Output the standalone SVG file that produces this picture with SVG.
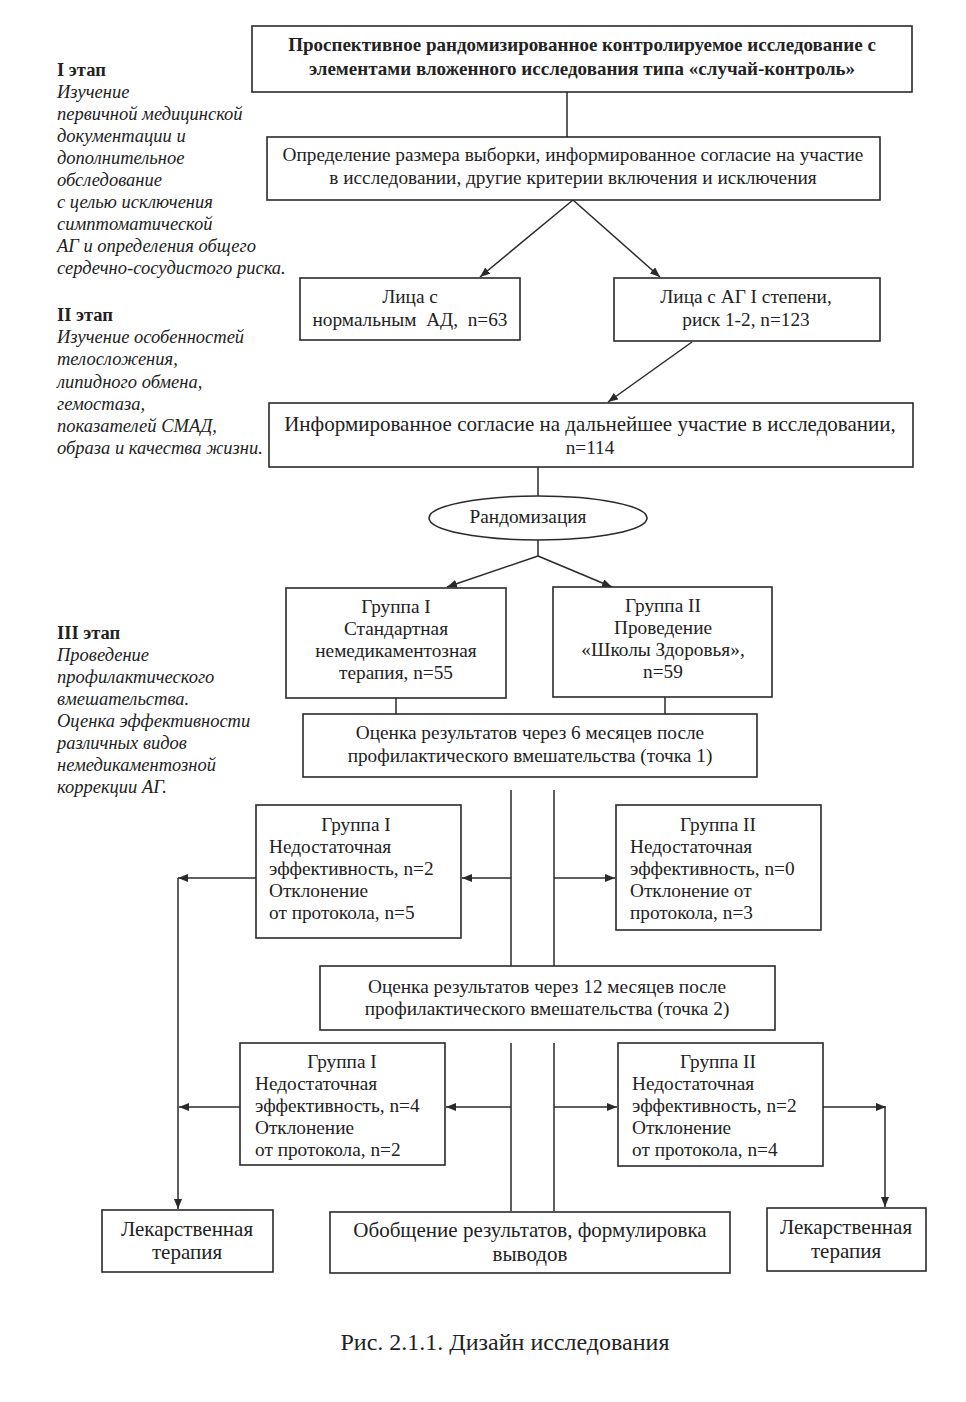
<svg xmlns="http://www.w3.org/2000/svg" width="966" height="1402" viewBox="0 0 966 1402">
<defs>
<marker id="arr" viewBox="0 0 10 8" refX="10" refY="4" markerWidth="10" markerHeight="8" markerUnits="userSpaceOnUse" orient="auto">
<path d="M0,0 L10,4 L0,8 Z" fill="#2a2a2a"/>
</marker>
<style>
.box{fill:#fff;stroke:#2a2a2a;stroke-width:1.6}
.ln{fill:none;stroke:#2a2a2a;stroke-width:1.5}
.t{font-family:"Liberation Serif","Times New Roman",serif;font-size:19.3px;fill:#222}
.c{text-anchor:middle}
.b{font-weight:bold}
.big{font-size:21px}
.st{font-family:"Liberation Serif","Times New Roman",serif;font-size:18.5px;fill:#222}
.it{font-style:italic}
</style>
</defs>
<rect width="966" height="1402" fill="#fff"/>

<g id="stages">
<text class="st b" x="57" y="76">I этап</text>
<text class="st it" x="57" y="98">Изучение</text>
<text class="st it" x="57" y="120">первичной медицинской</text>
<text class="st it" x="57" y="142">документации и</text>
<text class="st it" x="57" y="164">дополнительное</text>
<text class="st it" x="57" y="186">обследование</text>
<text class="st it" x="57" y="208">с целью исключения</text>
<text class="st it" x="57" y="230">симптоматической</text>
<text class="st it" x="57" y="252">АГ и определения общего</text>
<text class="st it" x="57" y="274">сердечно-сосудистого риска.</text>
<text class="st b" x="57" y="321">II этап</text>
<text class="st it" x="57" y="343">Изучение особенностей</text>
<text class="st it" x="57" y="365">телосложения,</text>
<text class="st it" x="57" y="388">липидного обмена,</text>
<text class="st it" x="57" y="410">гемостаза,</text>
<text class="st it" x="57" y="432">показателей СМАД,</text>
<text class="st it" x="57" y="454">образа и качества жизни.</text>
<text class="st b" x="57" y="639">III этап</text>
<text class="st it" x="57" y="661">Проведение</text>
<text class="st it" x="57" y="683">профилактического</text>
<text class="st it" x="57" y="705">вмешательства.</text>
<text class="st it" x="57" y="727">Оценка эффективности</text>
<text class="st it" x="57" y="749">различных видов</text>
<text class="st it" x="57" y="771">немедикаментозной</text>
<text class="st it" x="57" y="793">коррекции АГ.</text>
</g>

<g id="connectors">
<line class="ln" x1="567" y1="92" x2="567" y2="137"/>
<line class="ln" x1="573" y1="200" x2="480" y2="277" marker-end="url(#arr)"/>
<line class="ln" x1="573" y1="200" x2="660" y2="277" marker-end="url(#arr)"/>
<line class="ln" x1="692" y1="342" x2="608" y2="402" marker-end="url(#arr)"/>
<line class="ln" x1="538" y1="467" x2="538" y2="496"/>
<polyline class="ln" points="538,540 538,556"/>
<line class="ln" x1="538" y1="556" x2="447" y2="587" marker-end="url(#arr)"/>
<line class="ln" x1="538" y1="556" x2="612" y2="587" marker-end="url(#arr)"/>
<line class="ln" x1="396" y1="698" x2="396" y2="714"/>
<line class="ln" x1="665" y1="697" x2="665" y2="714"/>
<line class="ln" x1="511" y1="790" x2="511" y2="966"/>
<line class="ln" x1="554" y1="790" x2="554" y2="966"/>
<line class="ln" x1="511" y1="878" x2="462" y2="878" marker-end="url(#arr)"/>
<line class="ln" x1="256" y1="878" x2="178" y2="878" marker-end="url(#arr)"/>
<line class="ln" x1="554" y1="878" x2="615" y2="878" marker-end="url(#arr)"/>
<line class="ln" x1="178" y1="878" x2="178" y2="1209" marker-end="url(#arr)"/>
<line class="ln" x1="511" y1="1043" x2="511" y2="1211"/>
<line class="ln" x1="554" y1="1043" x2="554" y2="1211"/>
<line class="ln" x1="511" y1="1107" x2="446" y2="1107" marker-end="url(#arr)"/>
<line class="ln" x1="240" y1="1107" x2="179" y2="1107" marker-end="url(#arr)"/>
<line class="ln" x1="554" y1="1107" x2="617" y2="1107" marker-end="url(#arr)"/>
<line class="ln" x1="823" y1="1107" x2="886" y2="1107" marker-end="url(#arr)"/>
<line class="ln" x1="885" y1="1107" x2="885" y2="1207" marker-end="url(#arr)"/>
</g>

<g id="n-title">
<rect class="box" x="252" y="26" width="660" height="66"/>
<text class="t c b" x="582" y="51" style="font-size:19px">Проспективное рандомизированное контролируемое исследование с</text>
<text class="t c b" x="582" y="75" style="font-size:19px">элементами вложенного исследования типа «случай-контроль»</text>
</g>
<g id="n-selection">
<rect class="box" x="267" y="137" width="613" height="63"/>
<text class="t c" x="573" y="161">Определение размера выборки, информированное согласие на участие</text>
<text class="t c" x="573" y="184">в исследовании, другие критерии включения и исключения</text>
</g>
<g id="n-normal">
<rect class="box" x="300" y="278" width="220" height="62"/>
<text class="t c" x="410" y="303">Лица с</text>
<text class="t c" x="410" y="326" xml:space="preserve">нормальным  АД,  n=63</text>
</g>
<g id="n-ag">
<rect class="box" x="614" y="278" width="266" height="63"/>
<text class="t c" x="746" y="303">Лица с АГ I степени,</text>
<text class="t c" x="746" y="326">риск 1-2, n=123</text>
</g>
<g id="n-consent">
<rect class="box" x="269" y="403" width="644" height="64"/>
<text class="t c" x="590" y="431" style="font-size:21px">Информированное согласие на дальнейшее участие в исследовании,</text>
<text class="t c" x="590" y="454">n=114</text>
</g>
<g id="n-random">
<ellipse class="box" cx="538" cy="518" rx="109" ry="22"/>
<text class="t c" x="528" y="523">Рандомизация</text>
</g>
<g id="n-g1">
<rect class="box" x="286" y="588" width="220" height="110"/>
<text class="t c" x="396" y="613">Группа I</text>
<text class="t c" x="396" y="635">Стандартная</text>
<text class="t c" x="396" y="657">немедикаментозная</text>
<text class="t c" x="396" y="679">терапия, n=55</text>
</g>
<g id="n-g2">
<rect class="box" x="553" y="587" width="219" height="110"/>
<text class="t c" x="663" y="612">Группа II</text>
<text class="t c" x="663" y="634">Проведение</text>
<text class="t c" x="663" y="656">«Школы Здоровья»,</text>
<text class="t c" x="663" y="678">n=59</text>
</g>
<g id="n-point1">
<rect class="box" x="303" y="714" width="454" height="63"/>
<text class="t c" x="530" y="739">Оценка результатов через 6 месяцев после</text>
<text class="t c" x="530" y="762">профилактического вмешательства (точка 1)</text>
</g>
<g id="n-g1-6m">
<rect class="box" x="256" y="805" width="205" height="133"/>
<text class="t c" x="356" y="831">Группа I</text>
<text class="t" x="269" y="853">Недостаточная</text>
<text class="t" x="269" y="875">эффективность, n=2</text>
<text class="t" x="269" y="897">Отклонение</text>
<text class="t" x="269" y="919">от протокола, n=5</text>
</g>
<g id="n-g2-6m">
<rect class="box" x="616" y="805" width="205" height="125"/>
<text class="t c" x="718" y="831">Группа II</text>
<text class="t" x="630" y="853">Недостаточная</text>
<text class="t" x="630" y="875">эффективность, n=0</text>
<text class="t" x="630" y="897">Отклонение от</text>
<text class="t" x="630" y="919">протокола, n=3</text>
</g>
<g id="n-point2">
<rect class="box" x="320" y="966" width="455" height="64"/>
<text class="t c" x="547" y="993">Оценка результатов через 12 месяцев после</text>
<text class="t c" x="547" y="1015">профилактического вмешательства (точка 2)</text>
</g>
<g id="n-g1-12m">
<rect class="box" x="240" y="1043" width="205" height="122"/>
<text class="t c" x="342" y="1068">Группа I</text>
<text class="t" x="255" y="1090">Недостаточная</text>
<text class="t" x="255" y="1112">эффективность, n=4</text>
<text class="t" x="255" y="1134">Отклонение</text>
<text class="t" x="255" y="1156">от протокола, n=2</text>
</g>
<g id="n-g2-12m">
<rect class="box" x="618" y="1043" width="205" height="123"/>
<text class="t c" x="718" y="1068">Группа II</text>
<text class="t" x="632" y="1090">Недостаточная</text>
<text class="t" x="632" y="1112">эффективность, n=2</text>
<text class="t" x="632" y="1134">Отклонение</text>
<text class="t" x="632" y="1156">от протокола, n=4</text>
</g>
<g id="n-drug-left">
<rect class="box" x="102" y="1210" width="171" height="62"/>
<text class="t c big" x="187" y="1236">Лекарственная</text>
<text class="t c big" x="187" y="1259">терапия</text>
</g>
<g id="n-summary">
<rect class="box" x="330" y="1212" width="400" height="61"/>
<text class="t c big" x="530" y="1237">Обобщение результатов, формулировка</text>
<text class="t c big" x="530" y="1261">выводов</text>
</g>
<g id="n-drug-right">
<rect class="box" x="767" y="1208" width="159" height="63"/>
<text class="t c big" x="846" y="1234">Лекарственная</text>
<text class="t c big" x="846" y="1258">терапия</text>
</g>
<text class="t c" x="505" y="1350" style="font-size:24px">Рис. 2.1.1. Дизайн исследования</text>
</svg>
